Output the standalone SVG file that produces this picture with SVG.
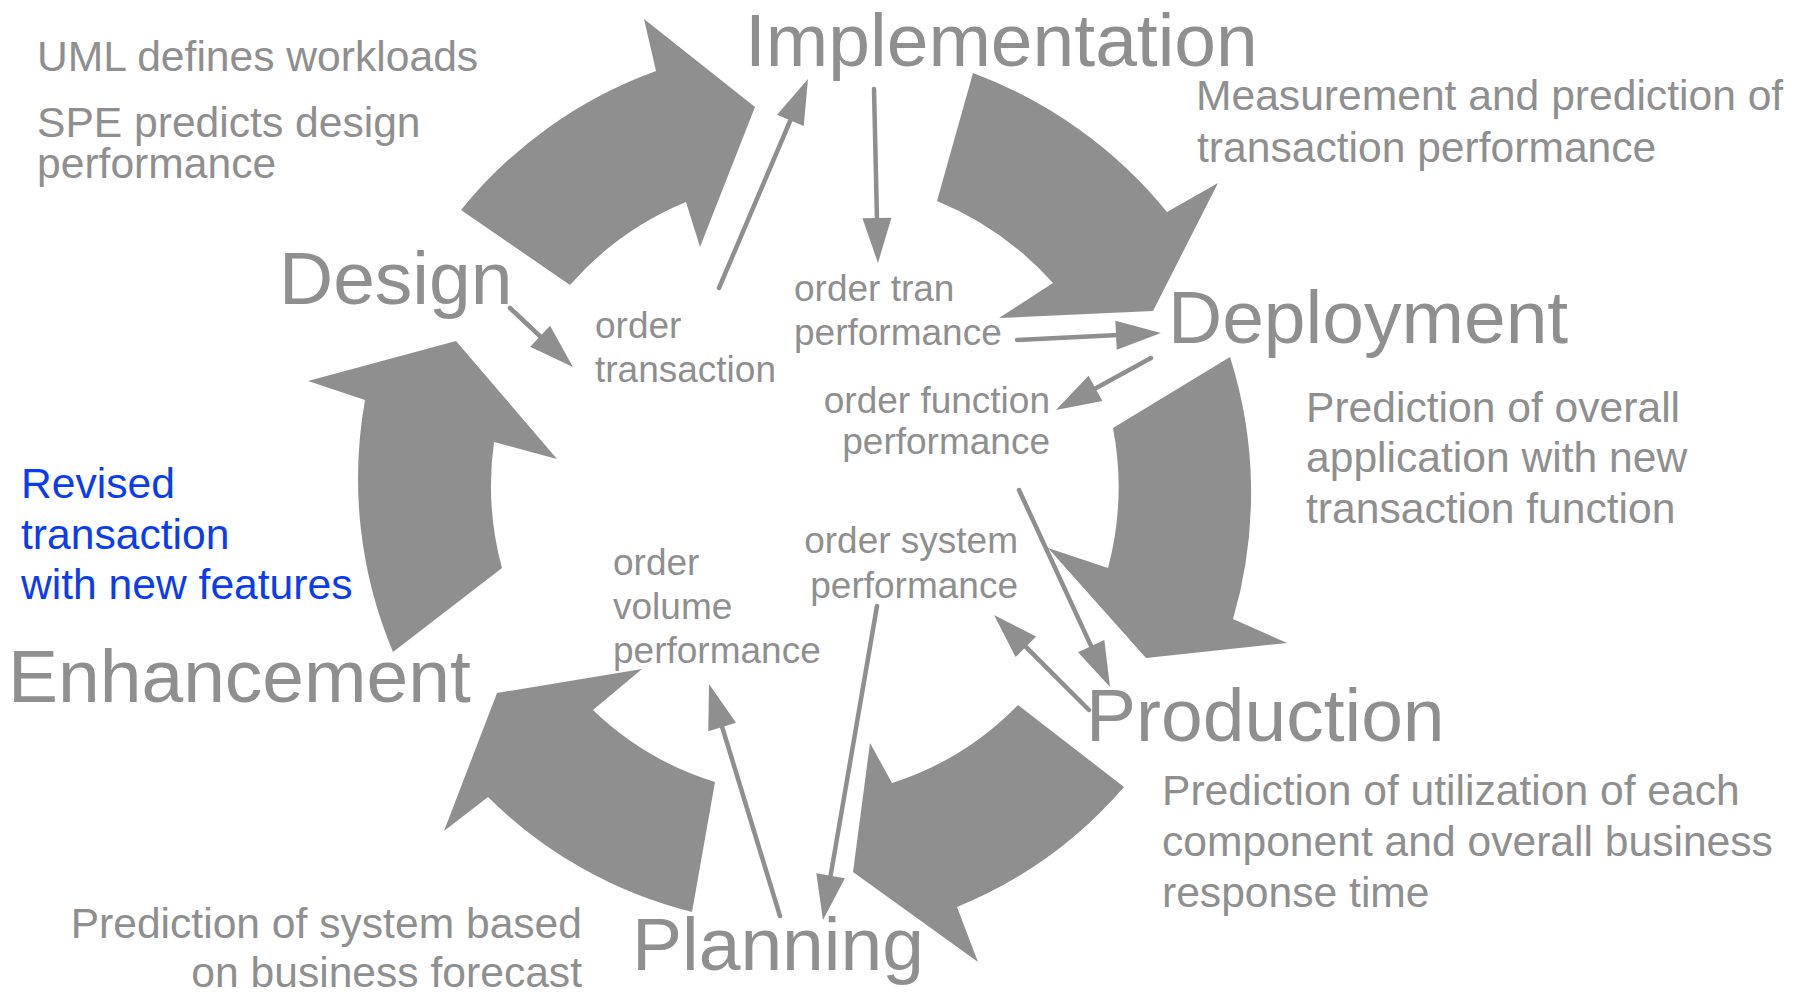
<svg xmlns="http://www.w3.org/2000/svg" width="1798" height="992" viewBox="0 0 1798 992">
<style>
  text { font-family: "Liberation Sans", Arial, sans-serif; fill: #8f8f8f; }
  .stage { font-size: 75px; }
  .desc { font-size: 42.6px; }
  .blue { fill: #0a3cf0; }
  .small { font-size: 37px; }
  .big { fill: #8f8f8f; stroke: none; }
  .link { stroke: #8f8f8f; stroke-width: 4.5; stroke-linecap: round; fill: none; marker-end: url(#head); }
</style>
<defs>
  <marker id="head" markerUnits="userSpaceOnUse" markerWidth="46" markerHeight="30" refX="33" refY="14.5" orient="auto" overflow="visible">
    <path d="M0,0 L45,14.5 L0,29 Z" fill="#8f8f8f"/>
  </marker>
</defs>
<rect width="1798" height="992" fill="#ffffff"/>

<g id="connectors">
  <g id="cycle">
    <path class="big" d="M461 210 A445 445 0 0 1 656 71 L644 19 L755 107 L700 247 L686 202 A312 312 0 0 0 570 285 Z"/>
    <path class="big" d="M973 73 A455 455 0 0 1 1167 212 L1218 183 L1153 311 L999 318 L1053 283 A320 320 0 0 0 937 201 Z"/>
    <path class="big" d="M1230 357 A448 448 0 0 1 1233 619 L1287 643 L1146 658 L1048 548 L1108 568 A315 315 0 0 0 1113 428 Z"/>
    <path class="big" d="M1124 787 A440 440 0 0 1 957 907 L978 962 L853 872 L870 743 L892 783 A305 305 0 0 0 1018 705 Z"/>
    <path class="big" d="M692 912 A439 439 0 0 1 488 797 L444 831 L497 693 L642 669 L593 710 A306 306 0 0 0 715 782 Z"/>
    <path class="big" d="M393 652 A447 447 0 0 1 365 400 L308 381 L456 341 L557 459 L494 442 A314 314 0 0 0 502 568 Z"/>
  </g>
  <g id="links">
    <path class="link" d="M510 308 L564.2 358.8"/>
    <path class="link" d="M719 288 L803.3 90"/>
    <path class="link" d="M874 89 L877.7 251"/>
    <path class="link" d="M1017 340 L1149 333.6"/>
    <path class="link" d="M1151 358 L1066.5 404.2"/>
    <path class="link" d="M1019 490 L1105 676.1"/>
    <path class="link" d="M1089 710 L1002.5 623.5"/>
    <path class="link" d="M877 606 L825 908.2"/>
    <path class="link" d="M780 916 L712.5 695.5"/>
  </g>
</g>

<g id="design"><text class="stage" x="279" y="304">Design</text></g>
<g id="implementation"><text class="stage" x="745" y="66">Implementation</text></g>
<g id="deployment"><text class="stage" x="1168" y="343">Deployment</text></g>
<g id="production"><text class="stage" x="1086" y="741">Production</text></g>
<g id="planning"><text class="stage" x="632" y="970">Planning</text></g>
<g id="enhancement"><text class="stage" x="8" y="702">Enhancement</text></g>

<g id="design-note">
  <text class="desc" x="37" y="71">UML defines workloads</text>
  <text class="desc" x="37" y="137">SPE predicts design</text>
  <text class="desc" x="37" y="178">performance</text>
</g>
<g id="implementation-note">
  <text class="desc" x="1196" y="110">Measurement and prediction of</text>
  <text class="desc" x="1197" y="162">transaction performance</text>
</g>
<g id="deployment-note">
  <text class="desc" x="1306" y="422">Prediction of overall</text>
  <text class="desc" x="1306" y="472">application with new</text>
  <text class="desc" x="1306" y="523">transaction function</text>
</g>
<g id="production-note">
  <text class="desc" x="1162" y="805">Prediction of utilization of each</text>
  <text class="desc" x="1162" y="856">component and overall business</text>
  <text class="desc" x="1162" y="907">response time</text>
</g>
<g id="planning-note">
  <text class="desc" x="582" y="938" text-anchor="end">Prediction of system based</text>
  <text class="desc" x="582" y="987" text-anchor="end">on business forecast</text>
</g>
<g id="enhancement-note">
  <text class="desc blue" x="21" y="498">Revised</text>
  <text class="desc blue" x="21" y="549">transaction</text>
  <text class="desc blue" x="21" y="599">with new features</text>
</g>

<g id="order-transaction">
  <text class="small" x="595" y="338">order</text>
  <text class="small" x="595" y="382">transaction</text>
</g>
<g id="order-tran-performance">
  <text class="small" x="794" y="301">order tran</text>
  <text class="small" x="794" y="345">performance</text>
</g>
<g id="order-function-performance">
  <text class="small" x="1050" y="413" text-anchor="end">order function</text>
  <text class="small" x="1050" y="454" text-anchor="end">performance</text>
</g>
<g id="order-system-performance">
  <text class="small" x="1018" y="553" text-anchor="end">order system</text>
  <text class="small" x="1018" y="598" text-anchor="end">performance</text>
</g>
<g id="order-volume-performance">
  <text class="small" x="613" y="575">order</text>
  <text class="small" x="613" y="619">volume</text>
  <text class="small" x="613" y="663">performance</text>
</g>
</svg>
